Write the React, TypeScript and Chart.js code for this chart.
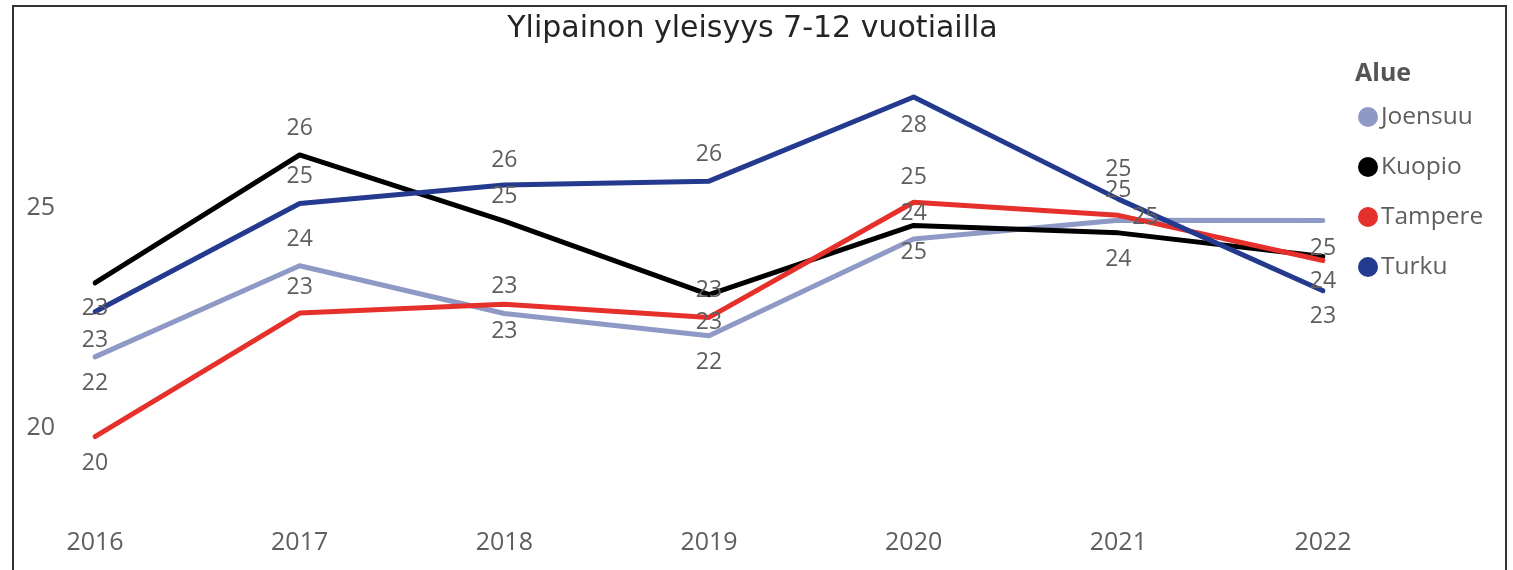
import React, { useEffect, useRef } from 'react';
import { Chart, registerables } from 'chart.js';

Chart.register(...registerables);

const TITLE = 'Ylipainon yleisyys 7-12 vuotiailla';
const LEGEND_TITLE = 'Alue';
const YEARS = ['2016', '2017', '2018', '2019', '2020', '2021', '2022'];
const SERIES_NAMES = ['Joensuu', 'Kuopio', 'Tampere', 'Turku'];
const JOENSUU = [21.61, 23.69, 22.6, 22.09, 24.3, 24.73, 24.72];
const KUOPIO = [23.3, 26.22, 24.71, 23.03, 24.61, 24.44, 23.9];
const TAMPERE = [19.79, 22.61, 22.81, 22.51, 25.14, 24.84, 23.81];
const TURKU = [22.64, 25.11, 25.53, 25.62, 27.54, 25.21, 23.12];
const Y_TICKS = [20, 25];

// styling
const COLORS = ['#8E99C5', '#000000', '#E6302C', '#243A8E'];
const FONT = "'Open Sans', 'Noto Sans', sans-serif";
const TEXT_GREY = '#605E5C';
// data-label offsets [dx, dy] relative to each point (null = hidden)
const LABEL_OFFSETS: (number[] | null)[][] = [
  [[0, 27], [0, -26], [0, 18], [0, 27], [0, -26], [27, -3], [0, 28]],
  [[0, 26], [0, -26], [0, -25], [0, 28], [0, 27], [0, 27], null],
  [[0, 27], [0, -26], [0, -18], [0, -27], [0, -25], [0, -25], [0, 21]],
  [[0, 29], [0, -27], [0, -25], [0, -27], [0, 28], [0, -30], [0, 26]],
];

const pointLabels = {
  id: 'pointLabels',
  afterDatasetsDraw(chart: any) {
    const ctx = chart.ctx;
    ctx.save();
    ctx.font = `23px ${FONT}`;
    ctx.fillStyle = TEXT_GREY;
    ctx.textAlign = 'center';
    ctx.textBaseline = 'middle';
    chart.data.datasets.forEach((ds: any, di: number) => {
      const meta = chart.getDatasetMeta(di);
      meta.data.forEach((pt: any, i: number) => {
        const off = LABEL_OFFSETS[di][i];
        if (!off) return;
        ctx.fillText(String(Math.round(ds.data[i])), pt.x + off[0], pt.y + off[1]);
      });
    });
    ctx.restore();
  },
};

const sideLegend = {
  id: 'sideLegend',
  afterDraw(chart: any) {
    const ctx = chart.ctx;
    const x0 = chart.chartArea.right + 32;
    ctx.save();
    ctx.textBaseline = 'middle';
    ctx.textAlign = 'left';
    ctx.fillStyle = '#555555';
    ctx.font = `bold 25px ${FONT}`;
    ctx.fillText(LEGEND_TITLE, x0, 74);
    ctx.font = `24.5px ${FONT}`;
    chart.data.datasets.forEach((ds: any, i: number) => {
      const cy = 117 + i * 50;
      ctx.beginPath();
      ctx.fillStyle = ds.borderColor;
      ctx.arc(x0 + 13, cy, 10, 0, Math.PI * 2);
      ctx.fill();
      ctx.fillStyle = TEXT_GREY;
      ctx.fillText(ds.label, x0 + 26, cy);
    });
    ctx.restore();
  },
};

export default function App() {
  const ref = useRef<HTMLCanvasElement | null>(null);

  useEffect(() => {
    if (!ref.current) return;
    const values = [JOENSUU, KUOPIO, TAMPERE, TURKU];
    const chart = new Chart(ref.current, {
      type: 'line',
      data: {
        labels: YEARS,
        datasets: SERIES_NAMES.map((name, i) => ({
          label: name,
          data: values[i],
          borderColor: COLORS[i],
          backgroundColor: COLORS[i],
          borderWidth: 5,
          pointRadius: 0,
          tension: 0,
          borderCapStyle: 'round' as const,
          borderJoinStyle: 'round' as const,
          order: SERIES_NAMES.length - 1 - i,
        })),
      },
      options: {
        responsive: false,
        animation: false,
        layout: { padding: { left: 0, right: 8, top: 0, bottom: 0 } },
        plugins: {
          legend: { display: false },
          tooltip: { enabled: false },
          title: {
            display: true,
            text: TITLE,
            color: '#252423',
            font: { family: "'DejaVu Sans', sans-serif", size: 30, weight: 'normal', lineHeight: 1.2 },
            padding: { top: 7.3, bottom: 7.3 },
          },
        },
        scales: {
          x: {
            offset: false,
            grid: { display: false, drawTicks: false },
            border: { display: false },
            ticks: {
              color: TEXT_GREY,
              font: { family: FONT, size: 25, lineHeight: 1.2 },
              padding: 13,
              maxRotation: 0,
              autoSkip: false,
            },
            afterFit: (s: any) => {
              s.height = 53.2;
            },
          },
          y: {
            min: 18,
            max: 28.5,
            grid: { display: false, drawTicks: false },
            border: { display: false },
            ticks: {
              color: TEXT_GREY,
              font: { family: FONT, size: 25 },
              padding: 40,
            },
            afterBuildTicks: (s: any) => {
              s.ticks = Y_TICKS.map((v) => ({ value: v }));
            },
            afterFit: (s: any) => {
              s.width = 95;
            },
          },
          yRight: {
            type: 'linear',
            position: 'right',
            grid: { display: false, drawTicks: false },
            border: { display: false },
            ticks: { display: false },
            afterFit: (s: any) => {
              s.width = 182;
            },
          },
        },
      },
      plugins: [pointLabels, sideLegend],
    } as any);
    return () => chart.destroy();
  }, []);

  return (
    <div style={{ position: 'absolute', left: 0, top: 0, width: 1513, height: 570, background: '#fff', overflow: 'hidden' }}>
      <canvas ref={ref} width={1513} height={570} style={{ display: 'block', width: 1513, height: 570 }} />
      <div
        style={{
          position: 'absolute',
          left: 12,
          top: 5,
          width: 1495,
          height: 565,
          boxSizing: 'border-box',
          borderTop: '2px solid #333',
          borderLeft: '2px solid #333',
          borderRight: '2px solid #333',
          pointerEvents: 'none',
        }}
      />
    </div>
  );
}
